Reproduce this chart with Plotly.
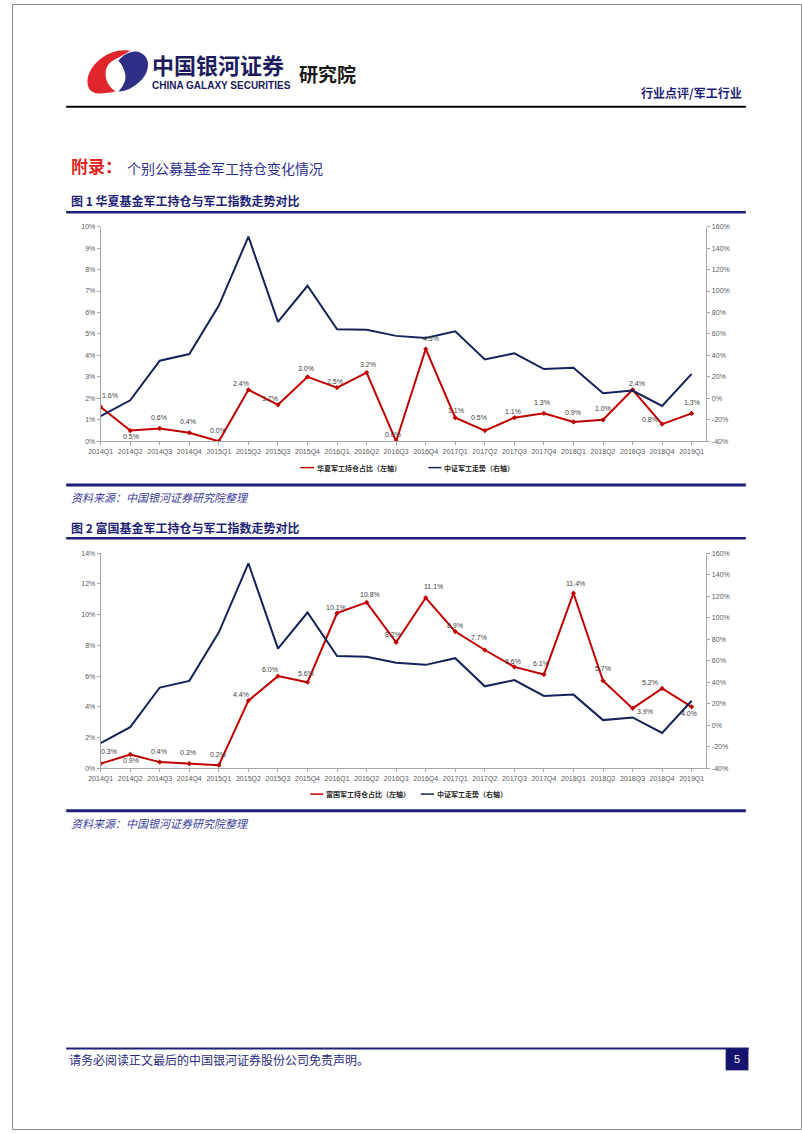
import plotly.graph_objects as go

# ---------------- data ----------------
quarters = ["2014Q1", "2014Q2", "2014Q3", "2014Q4", "2015Q1", "2015Q2", "2015Q3",
            "2015Q4", "2016Q1", "2016Q2", "2016Q3", "2016Q4", "2017Q1", "2017Q2",
            "2017Q3", "2017Q4", "2018Q1", "2018Q2", "2018Q3", "2018Q4", "2019Q1"]

# 华夏军工持仓占比 (%), left axis
huaxia_hold = [1.6, 0.5, 0.6, 0.4, 0.0, 2.4, 1.7, 3.0, 2.5, 3.2, 0.0, 4.3,
               1.1, 0.5, 1.1, 1.3, 0.9, 1.0, 2.4, 0.8, 1.3]

# 富国军工持仓占比 (%), left axis
fuguo_hold = [0.3, 0.9, 0.4, 0.3, 0.2, 4.4, 6.0, 5.6, 10.1, 10.8, 8.2, 11.1,
              8.9, 7.7, 6.6, 6.1, 11.4, 5.7, 3.9, 5.2, 4.0]

# 中证军工走势 (%), right axis
csi_military = [-16.6, -1.8, 35.1, 41.3, 86.4, 150.7, 71.3, 104.9, 64.4, 63.8, 58.2,
                56.2, 62.4, 36.2, 42.0, 27.3, 28.5, 4.8, 7.3, -7.1, 22.8]

left1_ticks = [0, 1, 2, 3, 4, 5, 6, 7, 8, 9, 10]
left2_ticks = [0, 2, 4, 6, 8, 10, 12, 14]
right_ticks = [-40, -20, 0, 20, 40, 60, 80, 100, 120, 140, 160]

# label offsets (px) for data labels: (dx, dy) with dy positive = down
off1 = [(9, -11), (1, 6), (-1, -11), (-1, -11), (-1, -11), (-7, -6), (-8, -6), (-2, -8),
        (-2, -6), (1, -8), (-3, -7), (5, -10), (1, -7), (-6, -13), (-1, -6), (-2, -11),
        (0, -9), (0, -11), (4, -6), (-12, -5), (0, -11)]
off2 = [(8, -12), (1, 6), (-1, -11), (-1, -11), (-1, -11), (-7, -6), (-8, -7), (-2, -9),
        (-1, -6), (3, -8), (-3, -8), (8, -11), (0, -6), (-6, -13), (-1, -5), (-3, -11),
        (2, -10), (0, -12), (12, 3), (-12, -6), (-3, 7)]

# ---------------- page geometry helpers ----------------
W, H = 802, 1133


def X(px):
    return px / W


def Y(py):
    return 1 - py / H


RED = "#C00000"
BLUE = "#15235A"
NAVY = "#1F1F78"
AXIS = "#A6A6A6"
TICKC = "#595959"
CJK = "Noto Sans CJK SC"
LAT = "Liberation Sans, Arial, sans-serif"

fig = go.Figure()

# chart 1 traces
fig.add_trace(go.Scatter(x=quarters, y=huaxia_hold, mode="lines+markers",
                         line=dict(color=RED, width=2),
                         marker=dict(symbol="diamond", size=4, color=RED),
                         xaxis="x", yaxis="y", showlegend=False))
fig.add_trace(go.Scatter(x=quarters, y=csi_military, mode="lines",
                         line=dict(color=BLUE, width=2),
                         xaxis="x", yaxis="y2", showlegend=False))
# chart 2 traces
fig.add_trace(go.Scatter(x=quarters, y=csi_military, mode="lines",
                         line=dict(color=BLUE, width=2),
                         xaxis="x2", yaxis="y4", showlegend=False))
fig.add_trace(go.Scatter(x=quarters, y=fuguo_hold, mode="lines+markers",
                         line=dict(color=RED, width=2),
                         marker=dict(symbol="diamond", size=4, color=RED),
                         xaxis="x2", yaxis="y3", showlegend=False))

xdom = [X(90), X(705)]
tickfont = dict(family=LAT, size=7, color=TICKC)

xcommon = dict(type="category", range=[0, 20.5], showgrid=False, zeroline=False,
               showline=True, linecolor=AXIS, linewidth=1, ticks="outside",
               ticklen=3, tickcolor=AXIS, tickfont=tickfont, tickangle=0,
               domain=xdom, fixedrange=True)
ycommon = dict(showgrid=False, zeroline=False, showline=True, linecolor=AXIS,
               linewidth=1, ticks="outside", ticklen=3, tickcolor=AXIS,
               tickfont=tickfont, fixedrange=True, tickmode="array")


def pct(ticks):
    return [f"{t}%" for t in ticks]


fig.update_layout(
    width=W, height=H,
    margin=dict(l=0, r=0, t=0, b=0),
    paper_bgcolor="white", plot_bgcolor="rgba(0,0,0,0)",
    xaxis=dict(**xcommon, anchor="y"),
    yaxis=dict(**ycommon, domain=[Y(440), Y(224)], range=[0, 10],
               tickvals=left1_ticks, ticktext=pct(left1_ticks), anchor="x"),
    yaxis2=dict(**ycommon, domain=[Y(440), Y(224)], range=[-40, 160],
                tickvals=right_ticks, ticktext=pct(right_ticks),
                overlaying="y", side="right", anchor="x"),
    xaxis2=dict(**xcommon, anchor="y3"),
    yaxis3=dict(**ycommon, domain=[Y(769), Y(552.7)], range=[0, 14],
                tickvals=left2_ticks, ticktext=pct(left2_ticks), anchor="x2"),
    yaxis4=dict(**ycommon, domain=[Y(769), Y(552.7)], range=[-40, 160],
                tickvals=right_ticks, ticktext=pct(right_ticks),
                overlaying="y3", side="right", anchor="x2"),
)

annotations = []
shapes = []

# data labels
for q, v, (dx, dy) in zip(quarters, huaxia_hold, off1):
    annotations.append(dict(x=q, y=v, xref="x", yref="y", text=f"{v:.1f}%",
                            showarrow=False, xshift=dx, yshift=-dy,
                            font=dict(family=LAT, size=7, color="#404040")))
for q, v, (dx, dy) in zip(quarters, fuguo_hold, off2):
    annotations.append(dict(x=q, y=v, xref="x2", yref="y3", text=f"{v:.1f}%",
                            showarrow=False, xshift=dx, yshift=-dy,
                            font=dict(family=LAT, size=7, color="#404040")))


def txt(px, py, text, size, color, family=CJK, anchor="left", bold=False,
        italic=False):
    annotations.append(dict(x=X(px), y=Y(py), xref="paper", yref="paper",
                            text=text, showarrow=False, xanchor=anchor,
                            yanchor="middle", borderpad=0,
                            font=dict(family=family, size=size, color=color,
                                      weight="bold" if bold else "normal",
                                      style="italic" if italic else "normal")))


def hline(x0, x1, py, color, width):
    shapes.append(dict(type="line", xref="paper", yref="paper", x0=X(x0), x1=X(x1),
                       y0=Y(py), y1=Y(py), line=dict(color=color, width=width)))


def path(pts, fill):
    s = ""
    for cmd, coords in pts:
        s += cmd + " ".join(f"{X(a):.5f},{Y(b):.5f}" for a, b in coords) + " "
    s += "Z"
    shapes.append(dict(type="path", xref="paper", yref="paper", path=s,
                       fillcolor=fill, line=dict(width=0)))


# page border
shapes.append(dict(type="rect", xref="paper", yref="paper", x0=X(0.5), x1=X(801.5),
                   y0=Y(1132.5), y1=Y(0.5), line=dict(color="#8C8C8C", width=1)))

# logo (red left swirl, blue right swirl)
path([("M", [(120, 47)]), ("C", [(100, 44), (81, 58), (77, 74)]),
      ("C", [(75, 84), (80, 90), (88, 90)]), ("C", [(95, 90), (101, 89), (105, 88)]),
      ("C", [(99, 84), (95, 78), (95, 70)]), ("C", [(95, 62), (100, 57), (108, 54)]),
      ("C", [(112, 52), (116, 49), (120, 47)])], "#E0262C")
path([("M", [(108, 57)]), ("C", [(113, 51), (120, 47), (128, 48)]),
      ("C", [(135, 50), (139, 56), (138, 63)]), ("C", [(137, 72), (130, 80), (120, 85)]),
      ("C", [(116, 87), (112, 88), (108, 88)]), ("C", [(113, 83), (116, 77), (115, 71)]),
      ("C", [(114, 65), (111, 60), (108, 57)])], "#2E2E86")

# header
txt(141, 60, "中国银河证券", 22, "#1B1B5E", bold=True)
txt(141, 82.5, "CHINA GALAXY SECURITIES", 10, "#1B1B5E", family=LAT, bold=True)
txt(290, 70, "研究院", 19, "#1A1A1A", bold=True)
txt(742, 89, "行业点评/军工行业", 12, NAVY, anchor="right", bold=True)
hline(55, 745, 103.3, "#000000", 2)

# section heading
txt(59, 163, "附录：", 17, "#E0251F", bold=True)
txt(116, 165, "个别公募基金军工持仓变化情况", 14, "#2E3192")

# chart 1 title / source
txt(59, 198, "图 1 华夏基金军工持仓与军工指数走势对比", 12, NAVY, bold=True)
hline(55, 745, 209.5, NAVY, 2.5)
hline(55, 745, 484, NAVY, 3)
txt(59, 496, "资料来源：中国银河证券研究院整理", 11, "#3B3B9B", italic=True)

# chart 2 title / source
txt(59, 527, "图 2 富国基金军工持仓与军工指数走势对比", 12, NAVY, bold=True)
hline(55, 745, 537.5, NAVY, 2.5)
hline(55, 745, 811.7, NAVY, 3)
txt(59, 824.5, "资料来源：中国银河证券研究院整理", 11, "#3B3B9B", italic=True)


# legends
def legend_item(x0, x1, py, color, label, marker):
    hline(x0, x1, py, color, 1.5)
    if marker:
        cx = (x0 + x1) / 2
        path([("M", [(cx, py - 2.2)]), ("L", [(cx + 2.2, py), (cx, py + 2.2), (cx - 2.2, py)])],
             color)
    txt(x1 + 1.5, py, label, 7, "#262626", bold=True)


legend_item(292.7, 306.7, 466.5, RED, "华夏军工持仓占比（左轴）", True)
legend_item(422.7, 436, 466.5, BLUE, "中证军工走势（右轴）", False)
legend_item(302.7, 316, 795, RED, "富国军工持仓占比（左轴）", True)
legend_item(415, 428.5, 795, BLUE, "中证军工走势（右轴）", False)

# footer
hline(55, 748, 1051, NAVY, 2)
txt(57, 1062, "请务必阅读正文最后的中国银河证券股份公司免责声明。", 12, "#2B2B7F")
shapes.append(dict(type="rect", xref="paper", yref="paper", x0=X(724.5), x1=X(747.6),
                   y0=Y(1073), y1=Y(1051), fillcolor="#15136E", line=dict(width=0)))
txt(736, 1062, "5", 11, "white", family=LAT, anchor="center")

fig.update_layout(annotations=annotations, shapes=shapes)
fig.write_html("out.html")
